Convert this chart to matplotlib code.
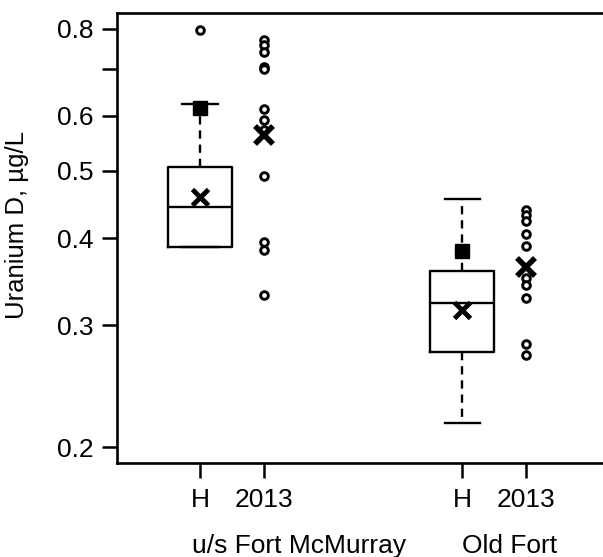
import matplotlib
matplotlib.use("Agg")
import matplotlib.pyplot as plt
import matplotlib.transforms as mtransforms

plt.rcParams['font.family'] = ['Liberation Sans', 'DejaVu Sans']

# ---------------------------------------------------------------
# values (uranium dissolved, ug/L)
# ---------------------------------------------------------------
sites = ['u/s Fort McMurray', 'Old Fort']
period_labels = ['H', '2013', 'H', '2013']

# historical box summaries
hist_q1 = [0.389, 0.274]
hist_med = [0.444, 0.323]
hist_q3 = [0.507, 0.359]
hist_whislo = [0.389, 0.217]
hist_whishi = [0.624, 0.456]
hist_mean = [0.458, 0.315]
hist_square = [0.615, 0.383]
hist_outliers = [[0.798], []]

# 2013 single samples
obs_2013 = [
    [0.771, 0.759, 0.742, 0.705, 0.700, 0.614, 0.592, 0.573, 0.492, 0.395, 0.385, 0.331],
    [0.439, 0.432, 0.423, 0.405, 0.390, 0.351, 0.342, 0.328, 0.282, 0.272],
]
mean_2013 = [0.563, 0.363]

pos_h = [1.0, 5.1]
pos_2013 = [2.0, 6.1]

# ---------------------------------------------------------------
fig = plt.figure(figsize=(6.03, 5.57), dpi=100)
ax = fig.add_axes([0.194, 0.169, 0.806, 0.808])

stats = []
for i in range(len(sites)):
    stats.append(dict(q1=hist_q1[i], med=hist_med[i], q3=hist_q3[i],
                      whislo=hist_whislo[i], whishi=hist_whishi[i],
                      mean=hist_mean[i], fliers=hist_outliers[i]))

ax.bxp(stats, positions=pos_h, widths=1.0, capwidths=0.55, showmeans=True,
       boxprops=dict(color='black', linewidth=1.7),
       medianprops=dict(color='black', linewidth=1.7),
       whiskerprops=dict(color='black', linewidth=1.7, linestyle=(0, (3.5, 2.5))),
       capprops=dict(color='black', linewidth=1.7),
       meanprops=dict(marker='x', markersize=11, markeredgewidth=3.5,
                      markeredgecolor='black'),
       flierprops=dict(marker='o', markersize=5.5, markeredgewidth=2.1,
                       markerfacecolor='white', markeredgecolor='black'))

ax.plot(pos_h, hist_square, linestyle='none', marker='s', markersize=10,
        color='black', zorder=4)

for i in range(len(sites)):
    ax.plot([pos_2013[i]] * len(obs_2013[i]), obs_2013[i], linestyle='none',
            marker='o', markersize=5.5, markeredgewidth=2.1,
            markerfacecolor='white', markeredgecolor='black', zorder=3)
ax.plot(pos_2013, mean_2013, linestyle='none', marker='x', markersize=13,
        markeredgewidth=4, color='black', zorder=5)

# log axis
ax.set_yscale('log')
ax.set_ylim(0.190, 0.844)
ax.set_xlim(-0.297, 7.297)
ax.minorticks_off()
ax.set_yticks([0.2, 0.3, 0.4, 0.5, 0.6, 0.7, 0.8])
ax.set_yticklabels(['0.2', '0.3', '0.4', '0.5', '0.6', '', '0.8'])
ax.set_xticks(pos_h + pos_2013)
ax.set_xticklabels(period_labels[0::2] + period_labels[1::2])

ax.tick_params(axis='both', direction='out', length=11, width=1.8,
               labelsize=19, colors='black')
ax.tick_params(axis='y', pad=6)
ax.tick_params(axis='x', pad=7)

for side in ['left', 'bottom', 'top']:
    ax.spines[side].set_linewidth(1.9)
ax.spines['right'].set_visible(False)

ax.set_ylabel('Uranium D, µg/L', fontsize=18.5)
ax.yaxis.set_label_coords(-0.181, 0.529)

# site labels under the tick labels
trans = mtransforms.blended_transform_factory(ax.transData, fig.transFigure)
site_x = [0.875, 5.09]
for name, xs in zip(sites, site_x):
    ax.text(xs, 0.008, name, transform=trans, ha='left', va='baseline',
            fontsize=19)

fig.savefig('out.png', dpi=100)
